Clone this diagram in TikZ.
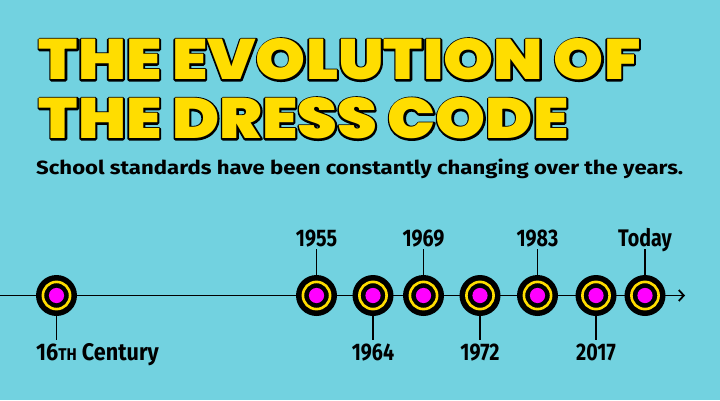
\documentclass[tikz,border=0pt]{standalone}
\usepackage{fontspec}
\usetikzlibrary{arrows.meta}
\setmainfont{Fira Sans}
\IfFontExistsTF{Poppins Black}{\newfontfamily\ttlfontA{Poppins Black}\def\ttlfont{\ttlfontA}}{\newfontfamily\ttlfontA{Poppins}\def\ttlfont{\ttlfontA\bfseries}}
\newfontfamily\subfontA{Fira Sans}\def\subfont{\subfontA\bfseries}
\newfontfamily\labfontA{Fira Sans}[FakeStretch=0.82]\def\labfont{\labfontA\bfseries}
\newfontfamily\labfontB{Fira Sans}[FakeStretch=0.9]\def\labfontw{\labfontB\bfseries}
\newcommand\outlinetext[1]{\rlap{\special{pdf:literal direct q 1 Tr 3.4 w 1 j 0 0 0 RG}#1\special{pdf:literal direct Q}}#1}
\definecolor{bgblue}{HTML}{72D2E0}
\definecolor{ttlyellow}{HTML}{FFDD00}
\definecolor{mag}{HTML}{FF00FF}
\begin{document}
\begin{tikzpicture}[x=1pt,y=1pt,
  dot/.style={circle, fill=black, minimum size=41pt, inner sep=0pt,
    path picture={\draw[ttlyellow, line width=2.6pt] (path picture bounding box.center) circle (13.6pt);
                  \fill[mag] (path picture bounding box.center) circle (7.6pt);}},
  lab/.style={font=\labfont\fontsize{24}{24}\selectfont, inner sep=0pt, text height=17pt, text depth=0pt},
  labup/.style={lab, anchor=south},
  labdn/.style={lab, anchor=north},
  stem/.style={line width=1.8pt},
  ttl/.style={anchor=north west, inner sep=0pt, text=ttlyellow, font=\ttlfont\fontsize{57}{57}\selectfont}
]
\useasboundingbox[fill=bgblue] (0,0) rectangle (720,400);

% title
\node[ttl] (t1) at (38.7,361.3) {\color{ttlyellow}\resizebox{601.6pt}{\height}{\outlinetext{THE EVOLUTION OF}}};
\node[ttl] (t2) at (38.7,302.3) {\color{ttlyellow}\resizebox{529.6pt}{\height}{\outlinetext{THE DRESS CODE}}};
\node[anchor=north west, inner sep=0pt] (sub) at (36,241.5) {\resizebox{647pt}{15.5pt}{\subfont School standards have been constantly changing over the years.}};

% timeline
\coordinate (L) at (0,104.5);
\coordinate (R) at (685,104.5);
\draw[line width=1.8pt, -{Straight Barb[length=5pt,width=11pt]}] (L) -- (R);

\node[dot] (c1) at (56.5,104.5) {};
\node[dot] (c2) at (316.5,104.5) {};
\node[dot] (c3) at (373,104.5) {};
\node[dot] (c4) at (423.5,104.5) {};
\node[dot] (c5) at (480,104.5) {};
\node[dot] (c6) at (537.5,104.5) {};
\node[dot] (c7) at (596,104.5) {};
\node[dot] (c8) at (645,104.5) {};

\node[lab, font=\labfontw\fontsize{24}{24}\selectfont, anchor=north west] (l1) at (36,57) {16{\fontsize{17}{17}\selectfont TH} Century};
\coordinate (s1) at (56.5,60);
\node[labup] (l2) at (316.5,153.5) {1955};
\node[labdn] (l3) at (373,57) {1964};
\node[labup] (l4) at (423.5,153.5) {1969};
\node[labdn] (l5) at (480,57) {1972};
\node[labup] (l6) at (537.5,153.5) {1983};
\node[labdn] (l7) at (596,57) {2017};
\node[labup] (l8) at (645,153.5) {Today};

\draw[stem] (c1.south) -- (s1);
\draw[stem, shorten >=2pt] (c2.north) -- (l2.south);
\draw[stem, shorten >=3pt] (c3.south) -- (l3.north);
\draw[stem, shorten >=2pt] (c4.north) -- (l4.south);
\draw[stem, shorten >=3pt] (c5.south) -- (l5.north);
\draw[stem, shorten >=2pt] (c6.north) -- (l6.south);
\draw[stem, shorten >=3pt] (c7.south) -- (l7.north);
\draw[stem, shorten >=2pt] (c8.north) -- (l8.south);
\end{tikzpicture}
\end{document}
